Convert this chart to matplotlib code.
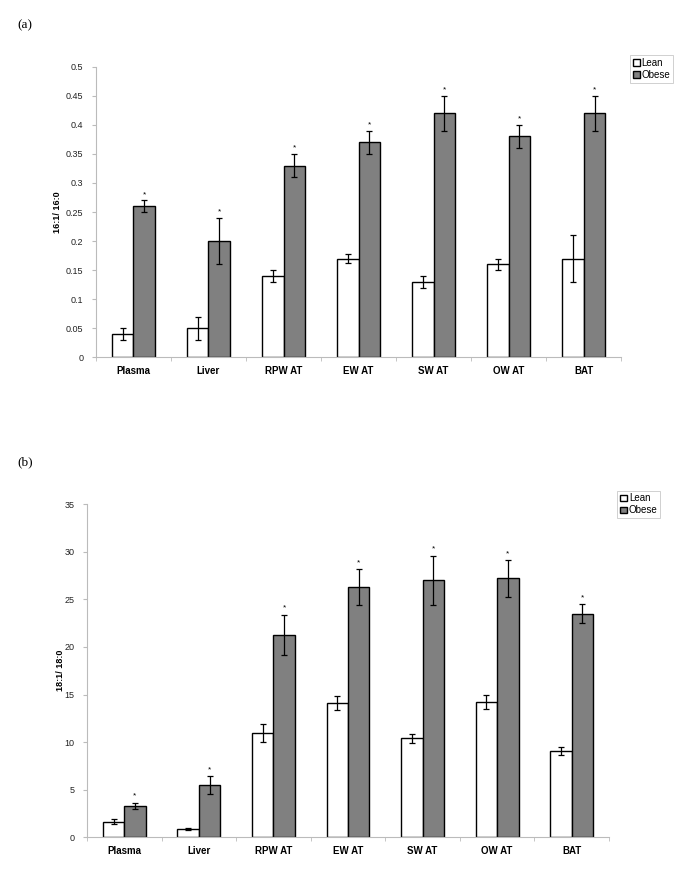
import matplotlib
import numpy as np

matplotlib.use("Agg")
import matplotlib.pyplot as plt

plt.rcParams["font.family"] = ["Liberation Sans", "DejaVu Sans"]

tissues = ["Plasma", "Liver", "RPW AT", "EW AT", "SW AT", "OW AT", "BAT"]
groups = ["Lean", "Obese"]

# (a) 16:1 / 16:0
lean_a = [0.04, 0.05, 0.14, 0.17, 0.13, 0.16, 0.17]
lean_a_err = [0.01, 0.02, 0.01, 0.007, 0.01, 0.01, 0.04]
obese_a = [0.26, 0.20, 0.33, 0.37, 0.42, 0.38, 0.42]
obese_a_err = [0.01, 0.04, 0.02, 0.02, 0.03, 0.02, 0.03]
yticks_a = [0, 0.05, 0.1, 0.15, 0.2, 0.25, 0.3, 0.35, 0.4, 0.45, 0.5]

# (b) 18:1 / 18:0
lean_b = [1.65, 0.84, 11.0, 14.1, 10.4, 14.2, 9.1]
lean_b_err = [0.25, 0.12, 0.95, 0.7, 0.47, 0.75, 0.4]
obese_b = [3.3, 5.5, 21.3, 26.3, 27.0, 27.2, 23.5]
obese_b_err = [0.35, 0.95, 2.1, 1.9, 2.6, 1.9, 1.0]
yticks_b = [0, 5, 10, 15, 20, 25, 30, 35]


def panel(ax, lean, lean_err, obese, obese_err, yticks, ylabel, star_off,
          label_x, leg_x):
    x = np.arange(len(tissues))
    w = 0.287
    ax.bar(x - w / 2, lean, w, color="white", edgecolor="black", linewidth=1.0,
           yerr=lean_err, capsize=2.5, error_kw=dict(elinewidth=0.9, capthick=0.9),
           label=groups[0], zorder=2)
    ax.bar(x + w / 2, obese, w, color="#808080", edgecolor="black", linewidth=1.0,
           yerr=obese_err, capsize=2.5, error_kw=dict(elinewidth=0.9, capthick=0.9),
           label=groups[1], zorder=2)
    for xi, v, e in zip(x, obese, obese_err):
        ax.text(xi + w / 2, v + e + star_off, "*", ha="center", va="bottom",
                fontsize=6)
    ax.set_xlim(-0.5, len(tissues) - 0.5)
    ax.set_ylim(yticks[0], yticks[-1])
    ax.set_yticks(yticks)
    ax.set_yticklabels([f"{t:g}" for t in yticks], fontsize=6.5, color="#222222")
    ax.set_xticks(x)
    ax.set_xticklabels(tissues, fontsize=7, fontweight="bold")
    ax.set_xticks(np.arange(len(tissues) + 1) - 0.5, minor=True)
    ax.tick_params(axis="x", which="major", length=0, pad=6)
    ax.tick_params(axis="x", which="minor", length=3, color="#bbbbbb")
    ax.tick_params(axis="y", length=3, color="#bbbbbb", pad=6)
    for s in ["top", "right"]:
        ax.spines[s].set_visible(False)
    for s in ["left", "bottom"]:
        ax.spines[s].set_color("#bbbbbb")
        ax.spines[s].set_linewidth(0.8)
    ax.set_ylabel(ylabel, fontsize=6.5, fontweight="bold")
    ax.yaxis.set_label_coords(label_x, 0.5)
    leg = ax.legend(loc="upper left", bbox_to_anchor=(leg_x, 1.05), fontsize=7,
                    frameon=True, fancybox=False, handlelength=0.7, handleheight=0.7,
                    handletextpad=0.2, borderpad=0.3, labelspacing=0.2,
                    borderaxespad=0.3)
    leg.get_frame().set_edgecolor("#bbbbbb")
    leg.get_frame().set_linewidth(0.6)


fig = plt.figure(figsize=(6.85, 8.69), dpi=100)

ax1 = fig.add_axes([0.140, 0.5888, 0.767, 0.3344])
panel(ax1, lean_a, lean_a_err, obese_a, obese_a_err, yticks_a, "16:1/ 16:0",
      0.004, -0.065, 1.011)

ax2 = fig.add_axes([0.127, 0.0365, 0.762, 0.3832])
panel(ax2, lean_b, lean_b_err, obese_b, obese_b_err, yticks_b, "18:1/ 18:0",
      0.3, -0.042, 1.01)

fig.text(0.026, 0.971, "(a)", fontsize=9.5, family="Liberation Serif", va="center")
fig.text(0.026, 0.468, "(b)", fontsize=9.5, family="Liberation Serif", va="center")

fig.savefig("out.png", dpi=100)
plt.close(fig)
